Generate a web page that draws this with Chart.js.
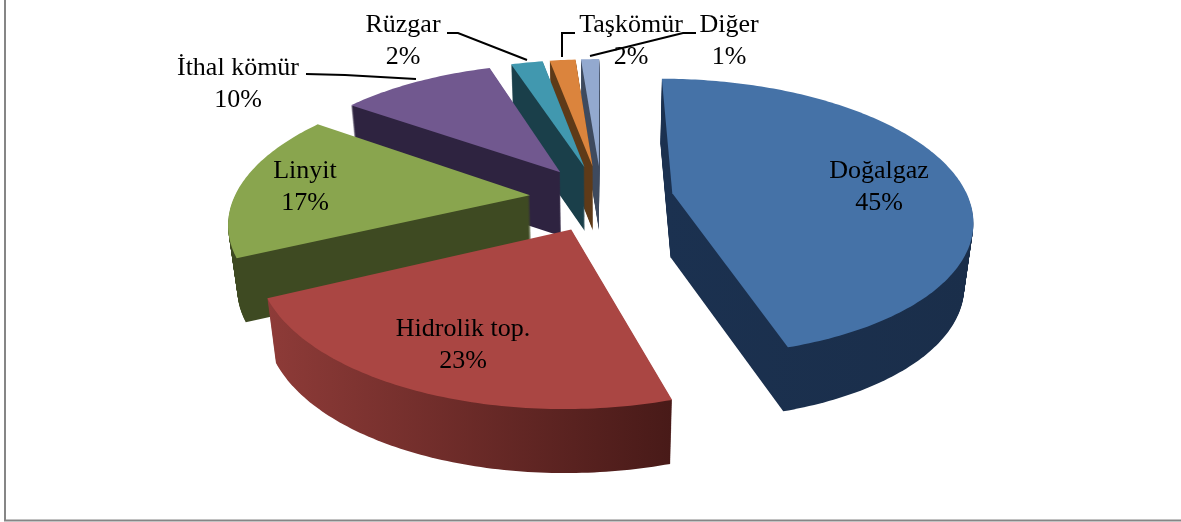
<!DOCTYPE html>
<html><head><meta charset="utf-8">
<style>html,body{margin:0;padding:0;background:#fff}#w{width:1181px;height:522px;position:relative}</style>
<script src="https://cdn.jsdelivr.net/npm/chart.js@4/dist/chart.umd.min.js"></script>
</head><body><div id="w"><canvas id="c" width="1181" height="522"></canvas></div>
<script>
const categories=["Doğalgaz","Hidrolik top.","Linyit","İthal kömür","Rüzgar","Taşkömür","Diğer"];
const shares=[45.35,22.55,16.9,10.2,2.1,1.7,1.2];
const topColors=["#4572A7","#AA4643","#89A54E","#71588F","#4198AF","#DB843D","#93A9CF"];
const sideFrom=["#1B3150","#8E3B38","#3E4A22","#2E2340","#1A3F4A","#5E3A18","#3E4A5E"];
const sideTo=["#1A2E4A","#481A18","#3E4A22","#2E2340","#1A3F4A","#5E3A18","#3E4A5E"];
const labelBoxes=[[879,171],[463,329],[305,171],[238,68],[403,25],[631,25],[729,25]];
const leaders=[null,null,null,[[306,74],[345,75],[416,79]],[[447,33],[458,33],[527,60]],[[575,33],[562,33],[562,57]],[[696,33],[683,33],[590,56]]];

const view={cx:601.5,cy:198,horizon:-583,p:0.000588,rScale:296,explode:72,depth:64,squeeze:0.025};
function project(X,Y,lift){
  const H=view.cy-view.horizon, w=1-view.p*Y;
  let sx=view.cx+X/w, sy=view.horizon+H/w;
  if(lift){sx=view.cx+(sx-view.cx)*(1-view.squeeze*lift);sy+=view.depth*lift;}
  return [sx,sy];
}
const pie3d={id:'pie3d',
 beforeDatasetsDraw(chart){
  const ctx=chart.ctx, arcs=chart.getDatasetMeta(0).data;
  const order=arcs.map((a,i)=>i).sort((a,b)=>{
    const m=i=>(arcs[i].startAngle+arcs[i].endAngle)/2;
    return Math.sin(m(a))-Math.sin(m(b));});
  order.forEach(i=>{
    const a=arcs[i], R=view.rScale, mid=(a.startAngle+a.endAngle)/2;
    const ox=Math.cos(mid)*view.explode, oy=Math.sin(mid)*view.explode;
    const pts=[[ox,oy]];
    const n=Math.max(6,Math.ceil((a.endAngle-a.startAngle)*60));
    for(let k=0;k<=n;k++){const t=a.startAngle+(a.endAngle-a.startAngle)*k/n;
      pts.push([ox+Math.cos(t)*R,oy+Math.sin(t)*R]);}
    const trace=l=>{ctx.beginPath();pts.forEach((q,j)=>{const s=project(q[0],q[1],l);
      j?ctx.lineTo(s[0],s[1]):ctx.moveTo(s[0],s[1]);});ctx.closePath();};
    const xs=pts.map(q=>project(q[0],q[1],0)[0]);
    const g=ctx.createLinearGradient(Math.min(...xs),0,Math.max(...xs),0);
    g.addColorStop(0,sideFrom[i]);g.addColorStop(1,sideTo[i]);
    ctx.fillStyle=g;
    for(let l=1;l>0;l-=1/view.depth){trace(l);ctx.fill();}
    trace(0);ctx.fillStyle=topColors[i];ctx.fill();
  });
  return false;
 },
 afterDraw(chart){
  const ctx=chart.ctx, total=shares.reduce((s,v)=>s+v,0);
  ctx.save();
  ctx.strokeStyle='#868686';ctx.lineWidth=2;
  ctx.beginPath();ctx.moveTo(5,0);ctx.lineTo(5,520.5);ctx.lineTo(1181,520.5);ctx.stroke();
  ctx.strokeStyle='#000';ctx.lineWidth=2;
  leaders.forEach(l=>{if(!l)return;ctx.beginPath();l.forEach((q,j)=>j?ctx.lineTo(q[0],q[1]):ctx.moveTo(q[0],q[1]));ctx.stroke();});
  ctx.fillStyle='#000';ctx.font='26px "Liberation Serif"';ctx.textAlign='center';ctx.textBaseline='middle';
  categories.forEach((c,i)=>{
    ctx.fillText(c,labelBoxes[i][0],labelBoxes[i][1]);
    ctx.fillText(Math.round(shares[i]/total*100)+'%',labelBoxes[i][0],labelBoxes[i][1]+32);
  });
  ctx.restore();
 }};
new Chart(document.getElementById('c'),{type:'doughnut',
 data:{labels:categories,datasets:[{data:shares,backgroundColor:topColors,borderWidth:0}]},
 options:{responsive:false,animation:false,cutout:0,rotation:0,
  layout:{padding:{left:19,bottom:138}},events:[],
  plugins:{legend:{display:false},tooltip:{enabled:false},title:{display:false}}},
 plugins:[pie3d]});
</script></body></html>
